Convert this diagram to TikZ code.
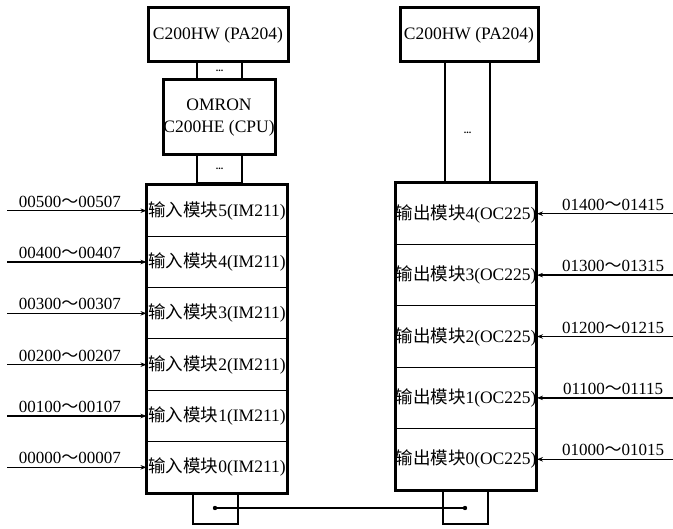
\documentclass[tikz,border=0pt]{standalone}
\usepackage{fontspec}
\setmainfont{Liberation Serif}
\newfontfamily\cjk{Noto Sans CJK SC}
\usetikzlibrary{arrows.meta}
\begin{document}
\begin{tikzpicture}[x=1pt,y=-1pt,
  thickbox/.style={draw, line width=3pt, inner sep=0pt, font=\fontsize{17.5}{22}\selectfont},
  rowbox/.style={draw, line width=1pt, inner sep=0pt, font=\fontsize{17.5}{18}\selectfont},
  linkbox/.style={draw, line width=1.2pt, inner sep=0pt, font=\bfseries\fontsize{10}{10}\selectfont},
  feed/.style={line width=1.4pt, -{Stealth[length=6pt,width=4.5pt]}},
  addr/.style={font=\fontsize{17}{17}\selectfont, above, inner sep=2.5pt},
  bus/.style={line width=1.4pt}]
\useasboundingbox (0,0) rectangle (673,529);

% left column top
\node[thickbox, minimum width=140pt, minimum height=54pt] (paL) at (218,35) {C200HW (PA204)};
\node[linkbox, minimum width=45pt, minimum height=18pt] (lk1) at (219.5,71) {...};
\node[thickbox, minimum width=112pt, minimum height=75pt, align=center] (cpu) at (219,117.5) {OMRON\\C200HE (CPU)};
\node[linkbox, minimum width=45pt, minimum height=28pt] (lk2) at (219.5,169) {...};

% input modules
\foreach \k/\m/\a/\b in {0/5/00500/00507, 1/4/00400/00407, 2/3/00300/00307, 3/2/00200/00207, 4/1/00100/00107, 5/0/00000/00007} {
  \pgfmathsetmacro\yy{185+51.333*(\k+0.5)}
  \node[rowbox, minimum width=140pt, minimum height=51.333pt] (in\m) at (217,\yy) {{\cjk 输入模块}\m(IM211)};
  \coordinate (s\m) at (7,\yy);
  \draw[feed] (s\m) -- (in\m.west) node[addr, pos=0.45] {\a{\cjk ～}\b};
}
\draw[line width=3pt] (in5.north west) rectangle (in0.south east);

% right column top
\node[thickbox, minimum width=138pt, minimum height=54pt] (paR) at (469,35) {C200HW (PA204)};
\node[linkbox, minimum width=45pt, minimum height=121pt] (lk3) at (467.5,122.5) {};
\node[font=\bfseries\fontsize{10}{10}\selectfont] (dots3) at (467.5,133) {...};

% output modules
\foreach \k/\m/\a/\b in {0/4/01400/01415, 1/3/01300/01315, 2/2/01200/01215, 3/1/01100/01115, 4/0/01000/01015} {
  \pgfmathsetmacro\yy{183+61.4*(\k+0.5)}
  \node[rowbox, minimum width=138pt, minimum height=61.4pt] (out\m) at (466,\yy) {{\cjk 输出模块}\m(OC225)};
  \coordinate (t\m) at (673,\yy);
  \draw[feed] (t\m) -- (out\m.east) node[addr, pos=0.44] {\a{\cjk ～}\b};
}
\draw[line width=3pt] (out4.north west) rectangle (out0.south east);

% bottom connection
\node[linkbox, minimum width=45pt, minimum height=31pt] (bL) at (215.5,508.5) {};
\node[linkbox, minimum width=45pt, minimum height=34pt] (bR) at (465.5,507) {};
\coordinate (dL) at (215,508);
\coordinate (dR) at (465,508);
\draw[bus] (dL) -- (dR);
\fill (dL) circle (2.2pt);
\fill (dR) circle (2.2pt);
\end{tikzpicture}
\end{document}
